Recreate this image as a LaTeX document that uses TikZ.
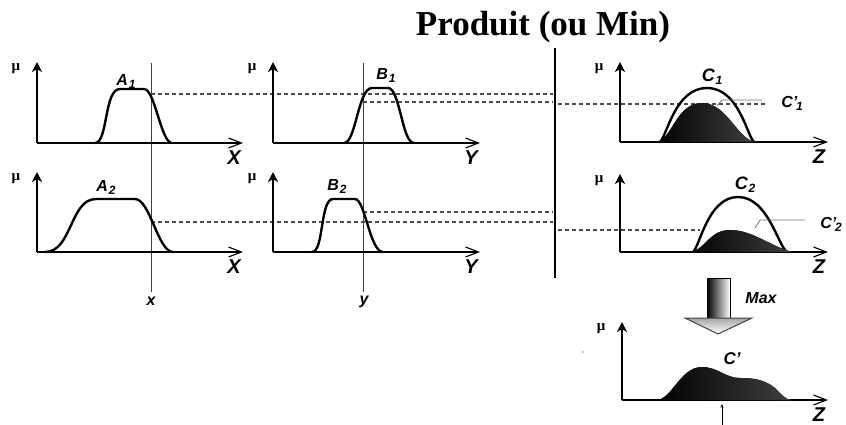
\documentclass[tikz,border=0pt]{standalone}
\usepackage{fontspec}
\setmainfont{Liberation Serif}
\setsansfont{Liberation Sans}
\usetikzlibrary{arrows.meta,patterns}
\newcommand\lsub[1]{\kern0.8pt\raisebox{-3pt}{\fontsize{12}{12}\selectfont#1}}
\newcommand\myaxes[6]{%
  \coordinate (#1o) at (#2,#3);
  \coordinate (#1t) at (#2,#4);
  \coordinate (#1e) at (#5,#3);
  \draw[yaxis] (#1o) -- (#1t);
  \draw[xaxis] (#1o) -- (#1e);
  \node[mul] (#1mu) at ({#2-21},{#4+7}) {μ};
  \node[axl] (#1lab) at ({#5-9},{#3+15}) {#6};
}
\tikzset{
 yaxis/.style={line width=2pt,-{Stealth[length=10pt,width=10pt,inset=3pt]}},
 xaxis/.style={line width=2pt,-{Straight Barb[length=13pt,width=10pt,line width=1.1pt]}},
 mf/.style={line width=2.4pt, line join=round, line cap=round},
 guide/.style={line width=1pt, black!75},
 dsh/.style={line width=1.1pt, black!70, dash pattern=on 4pt off 3pt},
 lead/.style={line width=0.8pt, black!55},
 lbl/.style={font=\sffamily\bfseries\itshape\fontsize{16}{16}\selectfont, inner sep=0pt},
 axl/.style={font=\sffamily\bfseries\itshape\fontsize{20}{20}\selectfont, inner sep=0pt},
 mul/.style={font=\rmfamily\bfseries\fontsize{15}{15}\selectfont, inner sep=0pt},
 shd/.style={left color=black, right color=black!75},
}
\begin{document}
\begin{tikzpicture}[x=1pt,y=-1pt]
\useasboundingbox (0,0) rectangle (846,425);
\fill[white] (0,0) rectangle (846,425);

% title and separating bar
\node[font=\bfseries\fontsize{35}{35}\selectfont, inner sep=0pt] (title) at (543,27) {Produit (ou Min)};
\coordinate (bart) at (555,48);
\coordinate (barb) at (555,278);
\draw[line width=2.2pt] (bart) -- (barb);

% guide lines x and y
\coordinate (xt) at (151,63); \coordinate (xb) at (151,292);
\coordinate (yt) at (363,63); \coordinate (yb) at (363,292);
\draw[guide] (xt) -- (xb);
\draw[guide] (yt) -- (yb);
\node[lbl] (xl) at (151,301) {x};
\node[lbl] (yl) at (364,302) {y};

% dashed levels
\draw[dsh] (151,94) -- (553,94);
\draw[dsh] (363,102) -- (553,102);
\draw[dsh] (151,222) -- (553,222);
\draw[dsh] (363,212) -- (553,212);
\draw[dsh] (558,104) -- (768,104);
\draw[dsh] (558,230) -- (700,230);

% axes
\myaxes{a}{37}{143}{62}{243}{X}
\myaxes{b}{37}{252}{172}{243}{X}
\myaxes{c}{273}{143}{62}{480}{Y}
\myaxes{d}{273}{252}{172}{480}{Y}
\myaxes{e}{620}{142}{62}{828}{Z}
\myaxes{f}{620}{252}{174}{828}{Z}
\myaxes{g}{622}{400}{322}{828}{Z}

% A1
\draw[mf] (95,143) .. controls (108,143) and (104,89) .. (120,89) -- (144,89) .. controls (155,89) and (161,143) .. (172,143);
\node[lbl] (A1) at (126,81) {A\lsub{1}};
% A2
\draw[mf] (45,252) .. controls (72,252) and (70,199) .. (96,199) -- (135,199) .. controls (150,199) and (158,252) .. (173,252);
\node[lbl] (A2) at (106,187) {A\lsub{2}};
% B1
\draw[mf] (344,143) .. controls (356,143) and (358,88) .. (372,88) -- (388,88) .. controls (400,88) and (402,143) .. (414,143);
\node[lbl] (B1) at (386,75) {B\lsub{1}};
% B2
\draw[mf] (312,252) .. controls (324,252) and (320,199) .. (333,199) -- (355,199) .. controls (365,199) and (370,252) .. (383,252);
\node[lbl] (B2) at (337,186) {B\lsub{2}};

% C1
\draw[mf] (660,142) .. controls (667,136) and (675,88) .. (707,88) .. controls (739,88) and (747,136) .. (754,142);
\fill[shd] (655,142) .. controls (672,142) and (675,103) .. (702,103) .. controls (728,103) and (738,142) .. (757,142) -- cycle;
\node[lbl, font=\sffamily\bfseries\itshape\fontsize{18}{18}\selectfont] (C1) at (712,77) {C\lsub{1}};
\draw[lead] (717,106) -- (722,100) -- (762,100);
\node[lbl] (C1p) at (792,103) {C'\kern-2pt\lsub{1}};

% C2
\draw[mf] (693,252) .. controls (700,246) and (708,197) .. (738,197) .. controls (768,197) and (778,246) .. (787,252);
\fill[shd] (688,252) .. controls (705,252) and (708,230) .. (730,230) .. controls (752,230) and (768,245) .. (792,252) -- cycle;
\node[lbl, font=\sffamily\bfseries\itshape\fontsize{18}{18}\selectfont] (C2) at (745,185) {C\lsub{2}};
\draw[lead] (755,228) -- (760,220) -- (805,220);
\node[lbl] (C2p) at (831,224) {C'\kern-2pt\lsub{2}};

% Max arrow
\shade[left color=black, right color=white, draw=black, line width=0.8pt] (707,278) rectangle (730,318);
\draw[line width=1pt, draw=black!75, top color=black!35, bottom color=white] (685,318) -- (752,318) -- (718,334) -- cycle;
\node[lbl, font=\sffamily\bfseries\itshape\fontsize{16}{16}\selectfont] (max) at (761,298) {Max};

% C' result
\fill[shd] (656,400) .. controls (672,400) and (680,367) .. (702,367) .. controls (718,367) and (725,378) .. (740,378) .. controls (755,378) and (765,380) .. (775,388) .. controls (782,395) and (786,400) .. (792,400) -- cycle;
\node[lbl, font=\sffamily\bfseries\itshape\fontsize{17}{17}\selectfont] (Cp) at (732,359) {C'};
\fill[black!50] (583,352) circle (0.9);
\coordinate (cgb) at (722,425);
\coordinate (cgt) at (722,404);
\draw[line width=0.8pt, -{Stealth[length=4pt,width=3pt]}] (cgb) -- (cgt);
\end{tikzpicture}
\end{document}
